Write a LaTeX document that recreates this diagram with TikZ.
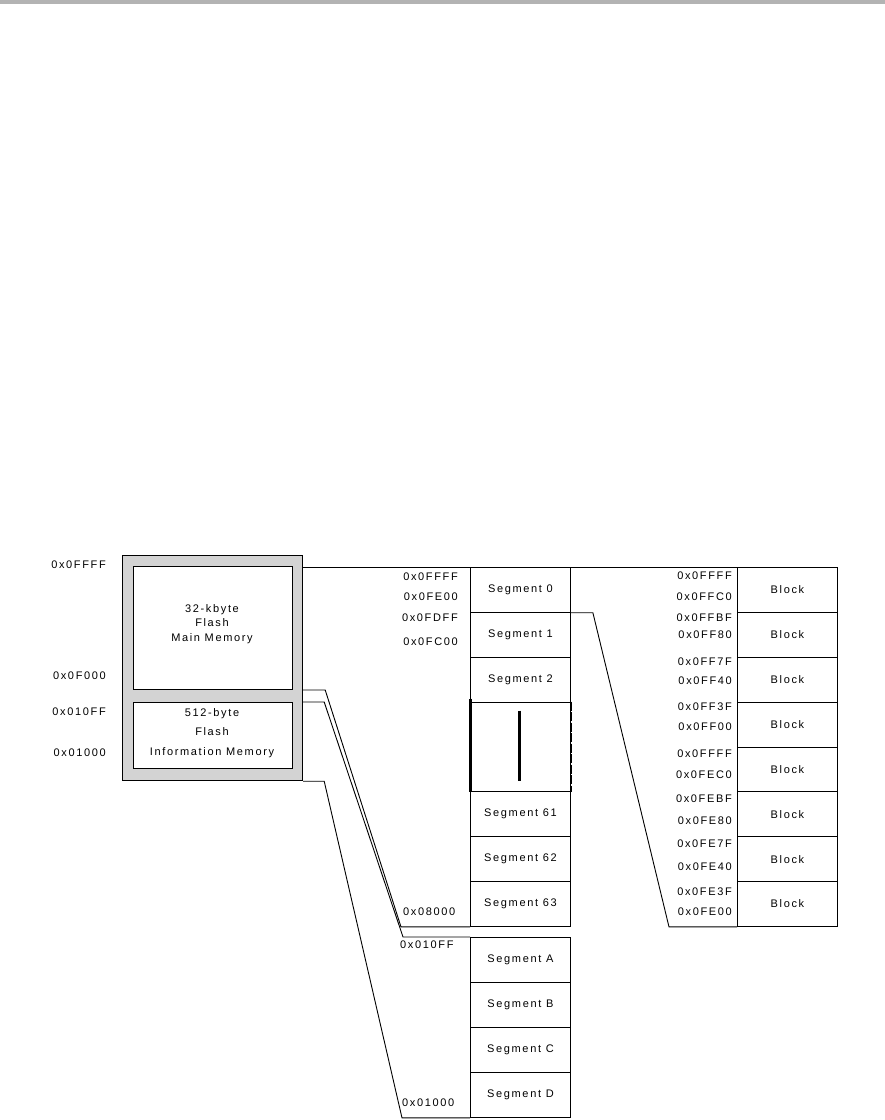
\documentclass[tikz,border=0pt]{standalone}
\usepackage{fontspec}
\setmainfont[LetterSpace=15]{Liberation Sans}
\usetikzlibrary{calc}
\definecolor{boxgray}{HTML}{D3D3D3}
\definecolor{bargray}{HTML}{B3B3B3}
\tikzset{
  txt/.style={font=\fontsize{11}{13}\selectfont, inner sep=0pt},
  cell/.style={draw, line width=0.9pt, minimum width=100pt, minimum height=44.875pt, inner sep=0pt, anchor=north west, txt},
  infocell/.style={cell, minimum height=45pt},
  addrR/.style={txt, anchor=east},
  addrL/.style={txt, anchor=west},
  conn/.style={draw, line width=0.9pt, line join=miter},
  membox/.style={draw, line width=1pt, fill=white, minimum width=159pt, anchor=north west, inner sep=0pt},
}
\begin{document}
\begin{tikzpicture}[x=1pt,y=-1pt]
\useasboundingbox (0,0) rectangle (885,1120);
\fill[bargray] (0,0) rectangle (885,4);

% memory map on the left
\node[draw, line width=1.2pt, fill=boxgray, minimum width=180pt, minimum height=225pt, anchor=north west, inner sep=0pt] (outer) at (122,555) {};
\node[membox, minimum height=123pt] (main) at (133,566) {};
\node[membox, minimum height=66pt] (info) at (133,702) {};
\node[txt, align=center, font=\fontsize{11}{14.5}\selectfont] (maintxt) at (212,624) {32-kbyte\\Flash\\Main Memory};
\node[txt, align=center, font=\fontsize{11}{19.5}\selectfont] (infotxt) at (212,733) {512-byte\\Flash\\Information Memory};

\node[addrR] (l1) at (106,565) {0x0FFFF};
\node[addrR] (l2) at (106,676) {0x0F000};
\node[addrR] (l3) at (106,712) {0x010FF};
\node[addrR] (l4) at (106,753) {0x01000};

% main memory segments
\node[cell] (seg0) at (470,567) {Segment 0};
\node[cell] (seg1) at (470,611.875) {Segment 1};
\node[cell] (seg2) at (470,656.75) {Segment 2};
\node[cell, minimum height=89.75pt] (gap) at (470,701.625) {};
\node[cell] (seg61) at (470,791.375) {Segment 61};
\node[cell] (seg62) at (470,836.25) {Segment 62};
\node[cell] (seg63) at (470,881.125) {Segment 63};
\draw[line width=3pt] ($(gap.north west)+(0,-3)$) -- (gap.south west);
\draw[line width=2.6pt, dash pattern=on 9pt off 1.5pt] (gap.north east) -- (gap.south east);
\draw[line width=3pt] ($(gap.north)+(-1,9)$) -- ($(gap.south)+(-1,-11)$);

\node[addrR] (s1) at (458,577) {0x0FFFF};
\node[addrR] (s2) at (458,597) {0x0FE00};
\node[addrR] (s3) at (458,618) {0x0FDFF};
\node[addrR] (s4) at (458,642) {0x0FC00};
\node[addrL] (s5) at (403,912) {0x08000};

% information memory segments
\node[infocell] (segA) at (470,937) {Segment A};
\node[infocell] (segB) at (470,982) {Segment B};
\node[infocell] (segC) at (470,1027) {Segment C};
\node[infocell] (segD) at (470,1072) {Segment D};
\node[addrL] (i1) at (400,945) {0x010FF};
\node[addrL] (i2) at (402,1103) {0x01000};

% blocks of segment 0
\foreach \i in {0,...,7}
  \node[cell] (blk\i) at (737,{567+\i*44.875}) {Block};
\foreach \n/\a/\y in {b1/0x0FFFF/576, b2/0x0FFC0/597, b3/0x0FFBF/618, b4/0x0FF80/635,
                     b5/0x0FF7F/662, b6/0x0FF40/681, b7/0x0FF3F/707, b8/0x0FF00/727,
                     b9/0x0FFFF/754, b10/0x0FEC0/775, b11/0x0FEBF/799, b12/0x0FE80/821,
                     b13/0x0FE7F/844, b14/0x0FE40/867, b15/0x0FE3F/892, b16/0x0FE00/912}
  \node[addrR] (\n) at (732,\y) {\a};

% connectors
\draw[conn] (seg0.north west -| outer.east) -- (blk0.north east);
\draw[conn] (main.south -| outer.east) -- ++(22,0) -- ($(seg63.south west)+(-69,0)$) -- (seg63.south west);
\draw[conn] (info.north -| outer.east) -- ++(21,0) -- ($(segA.north west)+(-67,0)$) -- (segA.north west);
\draw[conn] (outer.south east) -- ++(21,0) -- ($(segD.south west)+(-68,0)$) -- (segD.south west);
\draw[conn] (seg0.south east) -- ++(22,0) -- ($(blk7.south west)+(-68,0)$) -- (blk7.south west);
\end{tikzpicture}
\end{document}
